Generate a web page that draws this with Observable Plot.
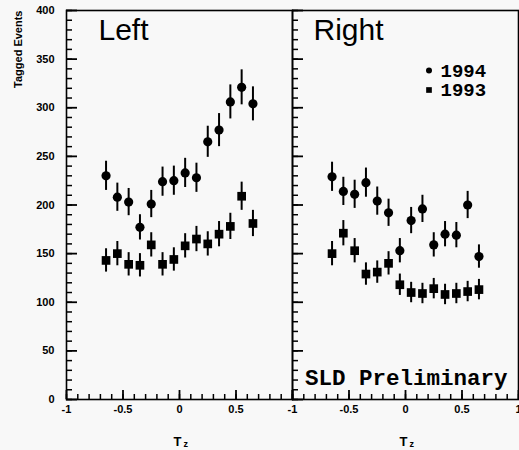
<!DOCTYPE html>
<html><head><meta charset="utf-8">
<script src="https://cdn.jsdelivr.net/npm/d3@7"></script>
<script src="https://cdn.jsdelivr.net/npm/@observablehq/plot@0.6"></script>
<style>html,body{margin:0;padding:0;background:#f8f8f8;}</style>
</head><body><div id="chart"></div>
<script>
const panels = ["Left", "Right"];
const years = ["1994", "1993"];
const tz = [-0.65, -0.55, -0.45, -0.35, -0.25, -0.15, -0.05, 0.05, 0.15, 0.25, 0.35, 0.45, 0.55, 0.65];
const left1994 = [230, 208, 203, 177, 201, 224, 225, 233, 228, 265, 277, 306, 321, 304];
const left1994Err = [15, 14.5, 14, 13, 14, 15, 15, 15, 15, 16, 17, 17.5, 18, 17.5];
const left1993 = [143, 150, 139, 138, 159, 139, 144, 158, 165, 160, 170, 178, 209, 181];
const left1993Err = [12, 12.5, 12, 12, 12.5, 12, 12, 12.5, 13, 12.5, 13, 13.5, 14.5, 13.5];
const right1994 = [229, 214, 211, 223, 204, 192, 153, 184, 196, 159, 170, 169, 200, 147];
const right1994Err = [15, 14.5, 14.5, 15, 14.5, 14, 12.5, 13.5, 14, 12.5, 13, 13, 14, 12];
const right1993 = [150, 171, 153, 129, 131, 140, 118, 110, 109, 114, 108, 109, 111, 113];
const right1993Err = [12.5, 13, 12.5, 11.5, 11.5, 12, 11, 10.5, 10.5, 10.5, 10.5, 10.5, 10.5, 10.5];
const yTicks = [0, 50, 100, 150, 200, 250, 300, 350, 400];
const leftXTicks = [-1, -0.5, 0, 0.5];
const rightXTicks = [-1, -0.5, 0, 0.5, 1];
const xMajor = [-1, -0.5, 0, 0.5, 1];
const yMinor = d3.range(0, 401, 10);
const xMinor = d3.range(-10, 11).map(d => d / 10);

const rows = [];
function add(panel, year, vals, errs) {
  vals.forEach((v, i) => rows.push({panel, year, tz: tz[i], n: v, err: errs[i]}));
}
add("Left", "1994", left1994, left1994Err);
add("Left", "1993", left1993, left1993Err);
add("Right", "1994", right1994, right1994Err);
add("Right", "1993", right1993, right1993Err);

const xLabels = [
  ...leftXTicks.map(v => ({panel: "Left", v})),
  ...rightXTicks.map(v => ({panel: "Right", v}))
];

const sans = "'Liberation Sans', Arial, Helvetica, sans-serif";
const mono = "'Liberation Mono', 'Courier New', monospace";
// tick lengths in pixels, converted to scale units (226 px per 2 x-units, 389 px per 400 y-units)
const pxX = 2 / 226, pxY = 400 / 389;

const chart = Plot.plot({
  width: 519, height: 450,
  marginLeft: 66, marginRight: 1, marginTop: 10, marginBottom: 51,
  x: {domain: [-1, 1], axis: null},
  y: {domain: [0, 400]},
  fx: {domain: panels, padding: 0, axis: null},
  style: {background: "#f8f8f8", fontFamily: sans, fontWeight: "bold", color: "#000"},
  marks: [
    Plot.frame({stroke: "#000", strokeWidth: 1.6}),
    Plot.ruleY(yMinor, {y: d => d, x1: -1, x2: -1 + 6 * pxX, stroke: "#000", strokeWidth: 1.5}),
    Plot.ruleY(yTicks, {y: d => d, x1: -1, x2: -1 + 11 * pxX, stroke: "#000", strokeWidth: 1.8}),
    Plot.ruleX(xMinor, {x: d => d, y1: 0, y2: 5 * pxY, stroke: "#000", strokeWidth: 1.5}),
    Plot.ruleX(xMajor, {x: d => d, y1: 0, y2: 9 * pxY, stroke: "#000", strokeWidth: 1.8}),
    Plot.axisY(yTicks, {tickSize: 0, tickPadding: 12, fontSize: 11, label: null}),
    Plot.text(xLabels, {fx: "panel", x: "v", text: d => String(d.v), frameAnchor: "bottom", dy: 10, lineAnchor: "middle", fontSize: 11, fill: "#000"}),
    Plot.ruleX(rows, {fx: "panel", x: "tz", y1: d => d.n - d.err, y2: d => d.n + d.err, stroke: "#000", strokeWidth: 2}),
    Plot.dot(rows.filter(d => d.year === "1994"), {fx: "panel", x: "tz", y: "n", r: 4.6, fill: "#000", stroke: "none"}),
    Plot.dot(rows.filter(d => d.year === "1993"), {fx: "panel", x: "tz", y: "n", symbol: "square", r: 4.9, fill: "#000", stroke: "none"}),
    Plot.text(["Left"], {fx: ["Left"], text: d => d, frameAnchor: "top-left", dx: 32, dy: 20, textAnchor: "start", lineAnchor: "middle", fontSize: 30, fontWeight: "normal", fill: "#000"}),
    Plot.text(["Right"], {fx: ["Right"], text: d => d, frameAnchor: "top-left", dx: 21, dy: 20, textAnchor: "start", lineAnchor: "middle", fontSize: 30, fontWeight: "normal", fill: "#000"}),
    Plot.text(["Tagged Events"], {fx: ["Left"], text: d => d, frameAnchor: "top-left", dx: -48, rotate: -90, textAnchor: "end", lineAnchor: "middle", fontSize: 11, fill: "#000"}),
    Plot.text(["T"], {text: d => d, frameAnchor: "bottom", dx: -2, dy: 42, lineAnchor: "middle", fontSize: 13, fill: "#000"}),
    Plot.text(["z"], {text: d => d, frameAnchor: "bottom", dx: 4, dy: 45, textAnchor: "start", lineAnchor: "middle", fontSize: 9, fill: "#000"}),
    Plot.dot([years[0]], {fx: ["Right"], frameAnchor: "top-left", dx: 136.5, dy: 60, r: 3, fill: "#000", stroke: "none"}),
    Plot.dot([years[1]], {fx: ["Right"], frameAnchor: "top-left", dx: 136.5, dy: 79.5, symbol: "square", r: 3.2, fill: "#000", stroke: "none"}),
    Plot.text([years[0]], {fx: ["Right"], text: d => d, frameAnchor: "top-left", dx: 148, dy: 60, textAnchor: "start", lineAnchor: "middle", fontFamily: mono, fontSize: 19, fontWeight: "bold", fill: "#000"}),
    Plot.text([years[1]], {fx: ["Right"], text: d => d, frameAnchor: "top-left", dx: 148, dy: 79.5, textAnchor: "start", lineAnchor: "middle", fontFamily: mono, fontSize: 19, fontWeight: "bold", fill: "#000"}),
    Plot.text(["SLD Preliminary"], {fx: ["Right"], text: d => d, frameAnchor: "bottom-right", dx: -11, dy: -22, textAnchor: "end", lineAnchor: "middle", fontFamily: mono, fontSize: 22.5, fontWeight: "bold", fill: "#000"})
  ]
});
document.getElementById("chart").appendChild(chart);
</script>
</body></html>
